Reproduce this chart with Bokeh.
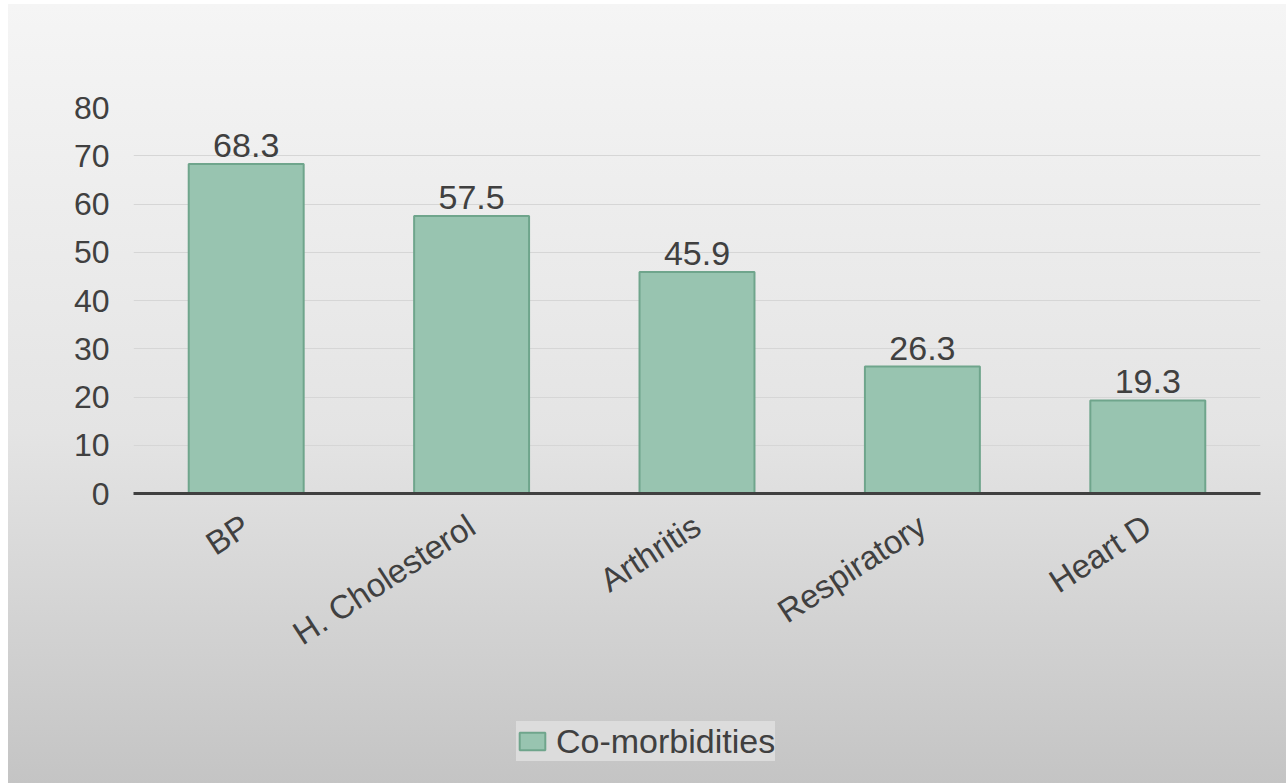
from bokeh.plotting import figure
from bokeh.layouts import column
from bokeh.models import ColumnDataSource, Legend, LegendItem, SingleIntervalTicker, Range1d
from bokeh.core.properties import value
from bokeh.embed import file_html
from bokeh.resources import INLINE

categories = ["BP", "H. Cholesterol", "Arthritis", "Respiratory", "Heart D"]
values = [68.3, 57.5, 45.9, 26.3, 19.3]
labels = ["68.3", "57.5", "45.9", "26.3", "19.3"]
series_name = "Co-morbidities"

FONT = "Liberation Sans"
TXT = "#404040"
BAR_FILL = "#98c4b0"
BAR_LINE = "#6fa58c"

src = ColumnDataSource(dict(cat=categories, val=values, lab=labels))

p = figure(x_range=categories, y_range=Range1d(0, 80),
           width=1278, height=713, output_backend="svg", toolbar_location=None,
           min_border_left=125, min_border_right=26, min_border_top=103, min_border_bottom=224)
p.background_fill_alpha = 0
p.border_fill_alpha = 0
p.outline_line_color = None

bars = p.vbar(x="cat", top="val", width=0.51, source=src,
              fill_color=BAR_FILL, line_color=BAR_LINE, line_width=2)

p.text(x="cat", y="val", text="lab", source=src, text_align="center",
       text_baseline="bottom", y_offset=-7, text_font=value(FONT),
       text_font_size="34px", text_color=TXT)

p.yaxis.ticker = SingleIntervalTicker(interval=10)
p.yaxis.axis_line_color = None
p.yaxis.major_tick_line_color = None
p.yaxis.minor_tick_line_color = None
p.yaxis.major_tick_out = 0
p.yaxis.major_label_standoff = 20
p.yaxis.major_label_text_font = FONT
p.yaxis.major_label_text_font_size = "32px"
p.yaxis.major_label_text_color = TXT

p.xaxis.axis_line_color = TXT
p.xaxis.axis_line_width = 3
p.xaxis.major_tick_line_color = None
p.xaxis.major_tick_out = 0
p.xaxis.major_label_standoff = 29
p.xaxis.major_label_orientation = 0.576
p.xaxis.major_label_text_font = FONT
p.xaxis.major_label_text_font_size = "33px"
p.xaxis.major_label_text_color = TXT

p.xgrid.grid_line_color = None
p.ygrid.grid_line_color = "#d6d6d6"
p.ygrid.grid_line_width = 1

# legend strip below the chart; its bar renderer is hidden, only the legend key shows
q = figure(width=1278, height=66, output_backend="svg", toolbar_location=None,
           x_range=p.x_range, y_range=Range1d(0, 80),
           x_axis_location=None, y_axis_location=None,
           min_border_left=0, min_border_right=0, min_border_top=0, min_border_bottom=0)
q.background_fill_alpha = 0
q.border_fill_alpha = 0
q.outline_line_color = None
q.xgrid.visible = False
q.ygrid.visible = False
key = q.vbar(x="cat", top="val", width=0.51, source=src,
             fill_color=BAR_FILL, line_color=BAR_LINE, line_width=2)
key.visible = False

legend = Legend(items=[LegendItem(label=series_name, renderers=[key])],
                location=(383, 22), orientation="horizontal",
                label_text_font=FONT, label_text_font_size="34px", label_text_color=TXT,
                glyph_width=32, glyph_height=22, label_standoff=8, padding=10,
                label_height=40,
                background_fill_color="#dcdcdc", background_fill_alpha=1.0,
                border_line_color=None, margin=0)
q.add_layout(legend, "center")

layout = column(p, q, spacing=0)
layout.margin = (4, 0, 0, 8)
layout.styles = {"background": "linear-gradient(to bottom, #f5f5f5 0%, #e4e4e4 55%, #c4c4c4 100%)"}

open("out.html", "w").write(file_html(layout, INLINE))
